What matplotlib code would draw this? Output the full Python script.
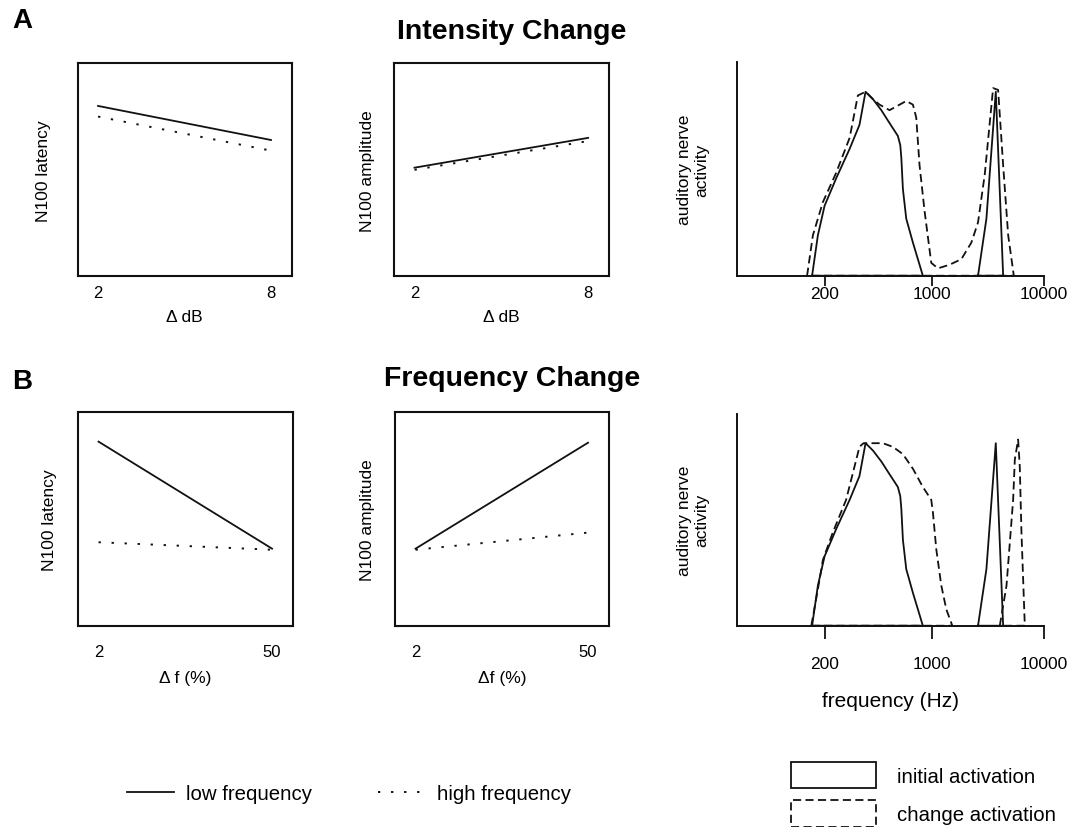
import numpy as np
import matplotlib.pyplot as plt
from matplotlib.lines import Line2D
from matplotlib.patches import Patch

plt.rcParams["font.family"] = ["Liberation Sans", "DejaVu Sans"]

INK = "#111111"
DOTTED = (0, (1.2, 5.5))
DASHED = (0, (4.5, 2.4))

# N100 sketches: two step sizes per condition
db_steps = [2, 8]
db_latency_low = [0.80, 0.64]
db_latency_high = [0.75, 0.59]
db_amplitude_low = [0.51, 0.65]
db_amplitude_high = [0.50, 0.635]

f_steps = [2, 50]
f_latency_low = [0.86, 0.36]
f_latency_high = [0.39, 0.355]
f_amplitude_low = [0.36, 0.855]
f_amplitude_high = [0.355, 0.435]

# auditory nerve activation patterns (frequency in Hz, relative activity)
init_low_hz = [166, 181, 200, 238, 291, 337, 369, 412, 467, 528, 598, 620, 630, 645, 678, 749, 869]
init_low_act = [0, 0.22, 0.38, 0.53, 0.69, 0.82, 1.0, 0.96, 0.90, 0.83, 0.76, 0.71, 0.64, 0.47, 0.31, 0.18, 0]
init_high_hz = [2570, 3055, 3707, 4315]
init_high_act = [0, 0.31, 1.0, 0]

int_change_hz = [154, 168, 195, 238, 291, 329, 369, 412, 455, 528, 614, 678, 749, 787, 827,
                 892, 985, 1124, 1432, 1822, 2240, 2570, 2952, 3508, 3890, 4315, 4786, 5377]
int_change_act = [0, 0.22, 0.40, 0.56, 0.75, 0.98, 1.0, 0.96, 0.93, 0.90, 0.93, 0.95, 0.93, 0.86, 0.60,
                  0.35, 0.07, 0.04, 0.06, 0.09, 0.18, 0.29, 0.55, 1.02, 1.01, 0.60, 0.22, 0]

freq_change_low_hz = [164, 181, 195, 226, 276, 337, 358, 412, 478, 555, 645, 749, 869, 985, 1014,
                      1086, 1205, 1336, 1512]
freq_change_low_act = [0, 0.20, 0.36, 0.51, 0.69, 0.98, 1.0, 1.0, 1.0, 0.98, 0.94, 0.86, 0.76, 0.69, 0.62,
                       0.42, 0.22, 0.09, 0]
freq_change_high_hz = [4027, 4624, 5302, 5489, 5875, 6081, 6295, 6745]
freq_change_high_act = [0, 0.22, 0.69, 0.91, 1.02, 0.87, 0.51, 0]

freq_ticks = [200, 1000, 10000]
freq_tick_labels = ["200", "1000", "10000"]

# frequency axis: one stretch below 1 kHz, plain decades above
LOW_STRETCH = 1.38


def freq_to_pos(f):
    lf = np.log10(np.maximum(f, 1e-6))
    return np.where(lf < 3, (lf - 3) * LOW_STRETCH, lf - 3)


def pos_to_freq(p):
    return np.where(p < 0, 10 ** (3 + p / LOW_STRETCH), 10 ** (3 + p))


def closed(seq):
    return np.append(seq, seq[0])


fig = plt.figure(figsize=(10.71, 8.28), dpi=100)


def line_panel(rect, x, low, high, xlim, ticklabels, xlabel, ylabel, ylab_x, tick_pad, xlab_y):
    ax = fig.add_axes(rect)
    ax.plot(x, low, color=INK, lw=1.3)
    ax.plot(x, high, color=INK, lw=1.4, linestyle=DOTTED)
    ax.set_xlim(*xlim)
    ax.set_ylim(0, 1)
    ax.set_xticks(x)
    ax.set_xticklabels(ticklabels)
    ax.set_yticks([])
    ax.tick_params(axis="x", length=0, pad=tick_pad, labelsize=12)
    ax.set_xlabel(xlabel, fontsize=12.5)
    ax.xaxis.set_label_coords(0.5, xlab_y)
    ax.set_ylabel(ylabel, fontsize=12.5)
    ax.yaxis.set_label_coords(ylab_x, 0.5)
    for spine in ax.spines.values():
        spine.set_linewidth(1.5)
        spine.set_color(INK)
    return ax


def nerve_panel(rect, change_curves, tick_len, tick_pad):
    ax = fig.add_axes(rect)
    ax.set_xscale("function", functions=(freq_to_pos, pos_to_freq))
    for hz, act in [(init_low_hz, init_low_act), (init_high_hz, init_high_act)]:
        ax.plot(closed(hz), closed(act), color=INK, lw=1.3, clip_on=False)
    for hz, act in change_curves:
        ax.plot(closed(hz), closed(act), color=INK, lw=1.3, linestyle=DASHED, clip_on=False)
    ax.set_xlim(54, 10000)
    ax.set_ylim(0, 1.16)
    ax.set_xticks(freq_ticks)
    ax.set_xticklabels(freq_tick_labels)
    ax.xaxis.set_minor_locator(plt.NullLocator())
    ax.set_yticks([])
    ax.tick_params(axis="x", length=tick_len, width=1.3, color=INK, pad=tick_pad, labelsize=12.5)
    ax.spines[["top", "right"]].set_visible(False)
    for side in ["left", "bottom"]:
        ax.spines[side].set_linewidth(1.4)
        ax.spines[side].set_color(INK)
    ax.text(-0.143, 0.5, "auditory nerve\nactivity", rotation=90, ha="center", va="center",
            multialignment="center", fontsize=12.5, transform=ax.transAxes)
    return ax


# A: intensity change
line_panel([0.0727, 0.6651, 0.1997, 0.2572], db_steps, db_latency_low, db_latency_high,
           (1.3, 8.72), ["2", "8"], "\u0394 dB", "N100 latency", -0.124, 6.5, -0.153)
line_panel([0.3681, 0.6651, 0.2005, 0.2572], db_steps, db_amplitude_low, db_amplitude_high,
           (1.3, 8.72), ["2", "8"], "\u0394 dB", "N100 amplitude", -0.09, 6.5, -0.153)
nerve_panel([0.6881, 0.6658, 0.2866, 0.2577], [(int_change_hz, int_change_act)], 7, 0.5)

# B: frequency change
line_panel([0.0731, 0.2431, 0.2005, 0.2585], f_steps, f_latency_low, f_latency_high,
           (-3.6, 55.8), ["2", "50"], "\u0394 f (%)", "N100 latency", -0.10, 13, -0.207)
line_panel([0.3692, 0.2431, 0.1993, 0.2585], f_steps, f_amplitude_low, f_amplitude_high,
           (-3.6, 55.8), ["2", "50"], "\u0394f (%)", "N100 amplitude", -0.096, 13, -0.207)
axB = nerve_panel([0.6881, 0.2431, 0.2866, 0.2557],
                  [(freq_change_low_hz, freq_change_low_act), (freq_change_high_hz, freq_change_high_act)],
                  9.5, 12.5)
axB.set_xlabel("frequency (Hz)", fontsize=15)
axB.xaxis.set_label_coords(0.5, -0.31)

# panel letters and headings
fig.text(22.5 / 1071, 1 - 21.3 / 828, "A", fontsize=20, fontweight="bold", ha="center", va="center")
fig.text(22.0 / 1071, 1 - 382.5 / 828, "B", fontsize=20, fontweight="bold", ha="center", va="center")
fig.text(512 / 1071, 1 - 39.3 / 828, "Intensity Change", fontsize=20.5, fontweight="bold",
         ha="center", va="baseline")
fig.text(512 / 1071, 1 - 386 / 828, "Frequency Change", fontsize=20.5, fontweight="bold",
         ha="center", va="baseline")

# legends
line_handles = [Line2D([], [], color=INK, lw=1.3),
                Line2D([], [], color=INK, lw=1.4, linestyle=DOTTED)]
fig.legend(line_handles, ["low frequency", "high frequency"], loc="center left",
           bbox_to_anchor=(126.7 / 1071, 1 - 795 / 828), ncol=2, frameon=False, fontsize=14.7,
           handlelength=2.3, handletextpad=0.62, columnspacing=3.2, borderpad=0, borderaxespad=0)

box_handles = [Patch(facecolor="none", edgecolor=INK, lw=1.3),
               Patch(facecolor="none", edgecolor=INK, lw=1.3, linestyle=DASHED)]
fig.legend(box_handles, ["initial activation", "change activation"], loc="upper left",
           bbox_to_anchor=(790.7 / 1071, 1 - 762.7 / 828), frameon=False, fontsize=14.7,
           handlelength=4.2, handleheight=1.63, handletextpad=1.0, labelspacing=0.57,
           borderpad=0, borderaxespad=0)

fig.savefig("out.png", dpi=100)
